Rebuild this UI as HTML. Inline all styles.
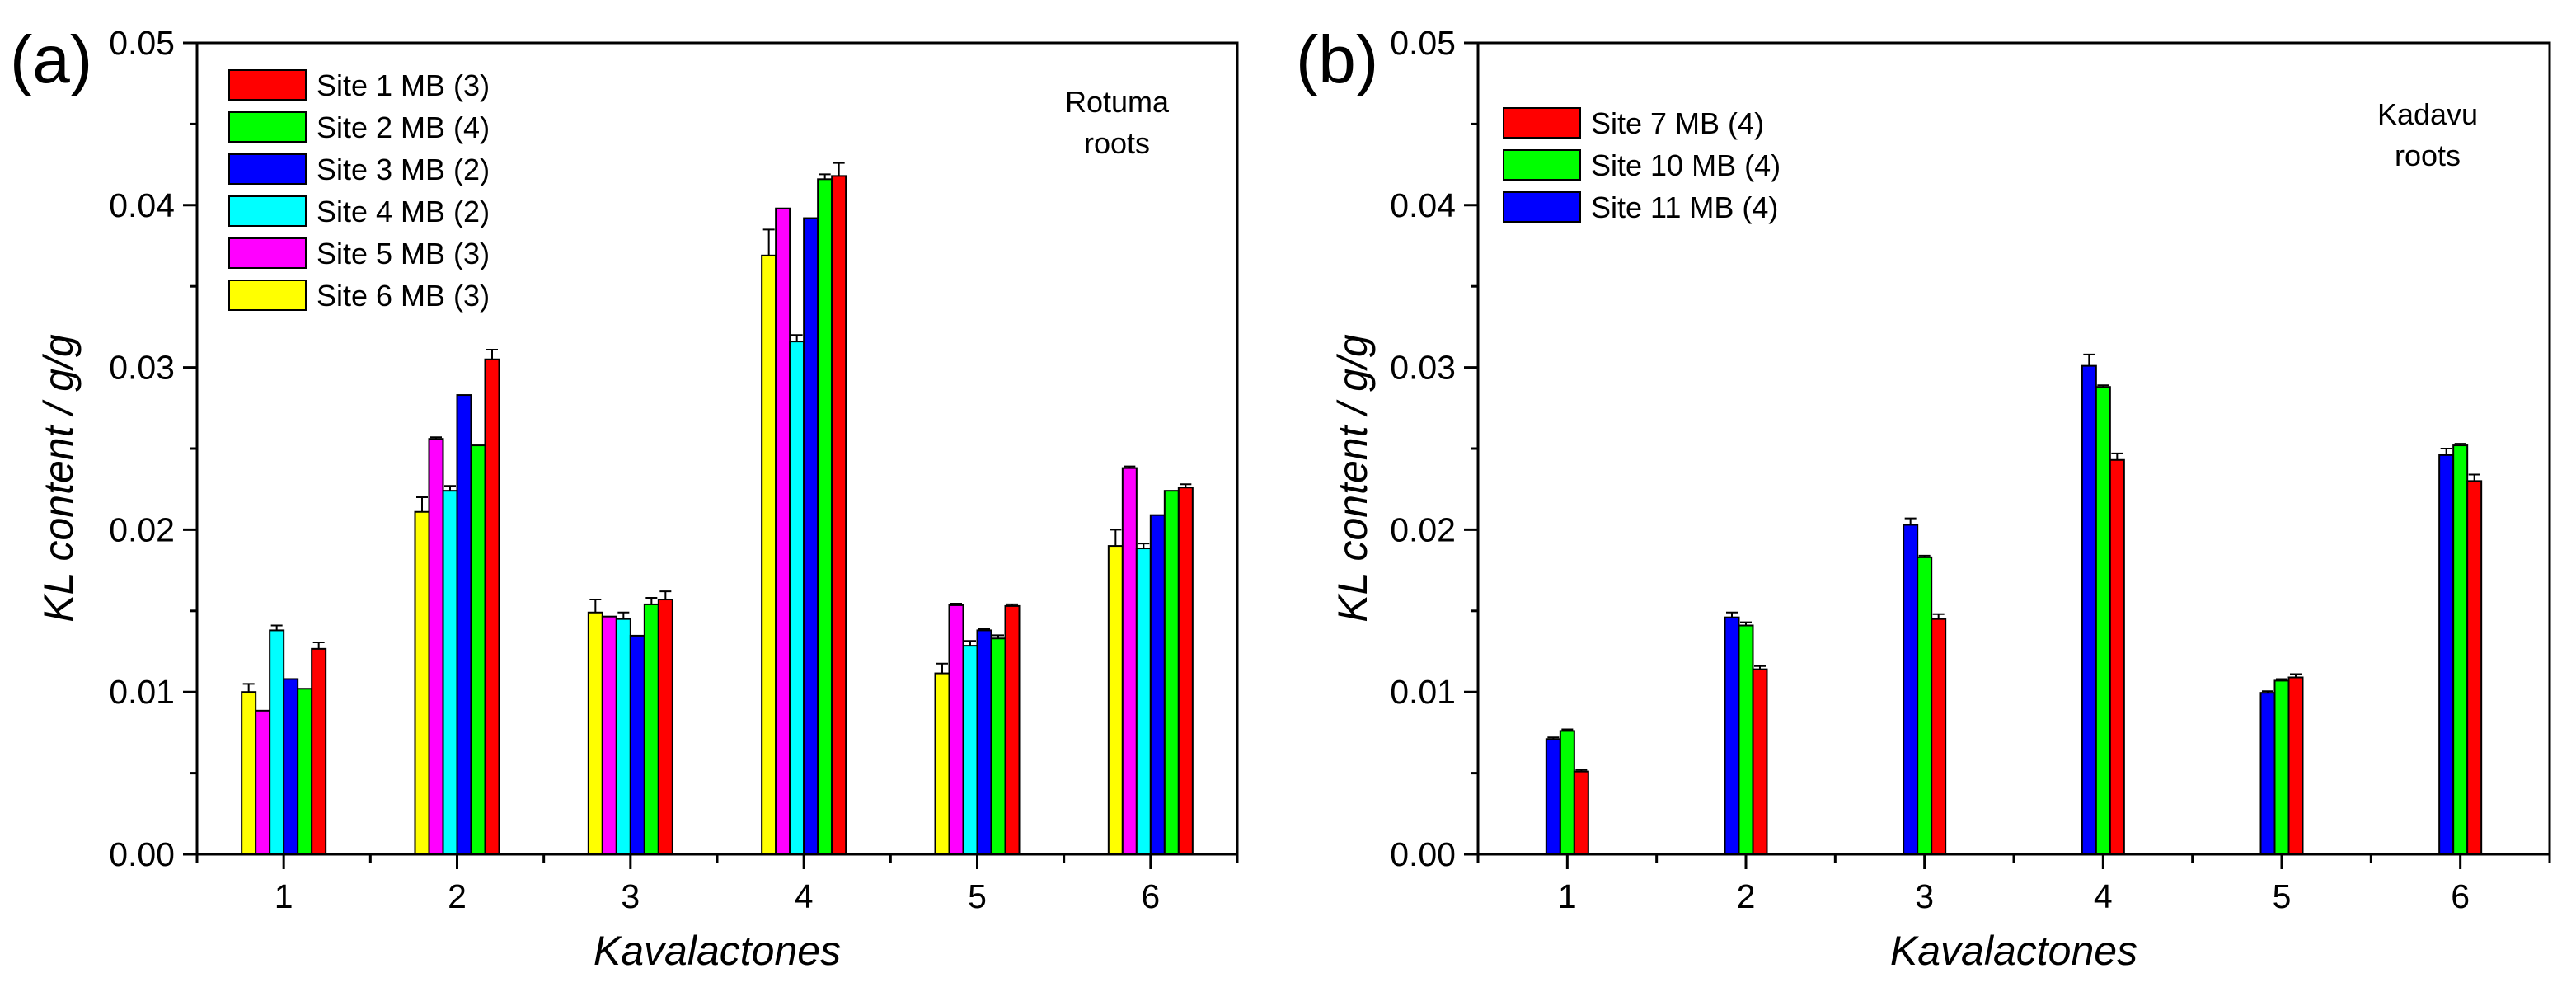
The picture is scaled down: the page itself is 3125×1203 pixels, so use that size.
<!DOCTYPE html>
<html><head><meta charset="utf-8"><style>
html,body{margin:0;padding:0;background:#fff;}
svg{display:block;font-family:"Liberation Sans",Arial,sans-serif;}
</style></head><body>
<svg id="chart" width="3125" height="1203" viewBox="0 0 3125 1203" xmlns="http://www.w3.org/2000/svg"></svg>
<script>
const categories = ["1","2","3","4","5","6"];
const yTicks = [0, 0.01, 0.02, 0.03, 0.04, 0.05];
const yTickLabels = ["0.00","0.01","0.02","0.03","0.04","0.05"];
// Panel (a) series, in bar order left->right
const aNames = ["Site 6 MB (3)","Site 5 MB (3)","Site 4 MB (2)","Site 3 MB (2)","Site 2 MB (4)","Site 1 MB (3)"];
const aColors = ["#ffff00","#ff00ff","#00ffff","#0000ff","#00ff00","#ff0000"];
const aSite6 = [0.0100,0.0211,0.0149,0.0369,0.01115,0.0190];
const aSite5 = [0.00885,0.0256,0.01465,0.0398,0.01535,0.0238];
const aSite4 = [0.0138,0.0224,0.0145,0.0316,0.01285,0.01885];
const aSite3 = [0.0108,0.0283,0.01347,0.0392,0.0138,0.0209];
const aSite2 = [0.0102,0.0252,0.0154,0.0416,0.0133,0.0224];
const aSite1 = [0.01266,0.0305,0.0157,0.0418,0.0153,0.0226];
const aErr6 = [0.0005,0.0009,0.0008,0.0016,0.0006,0.0010];
const aErr5 = [0,0.0001,0,0,0.0001,0.0001];
const aErr4 = [0.0003,0.0003,0.0004,0.0004,0.0003,0.0003];
const aErr3 = [0,0,0,0,0.0001,0];
const aErr2 = [0,0,0.0004,0.0003,0.0002,0];
const aErr1 = [0.0004,0.0006,0.0005,0.0008,0.0001,0.0002];
// Panel (b)
const bNames = ["Site 11 MB (4)","Site 10 MB (4)","Site 7 MB (4)"];
const bColors = ["#0000ff","#00ff00","#ff0000"];
const bSite11 = [0.0071,0.0146,0.0203,0.0301,0.00995,0.0246];
const bSite10 = [0.0076,0.0141,0.0183,0.0288,0.0107,0.0252];
const bSite7 = [0.0051,0.0114,0.0145,0.0243,0.0109,0.0230];
const bErr11 = [0.0001,0.0003,0.0004,0.0007,0.0001,0.0004];
const bErr10 = [0.0001,0.0002,0.0001,0.0001,0.0001,0.0001];
const bErr7 = [0.0001,0.0002,0.0003,0.0004,0.0002,0.0004];

const NS="http://www.w3.org/2000/svg";
const svg=document.getElementById('chart');
function mk(tag,attrs,parent){const e=document.createElementNS(NS,tag);for(const k in attrs)e.setAttribute(k,attrs[k]);(parent||svg).appendChild(e);return e;}

function panel(cfg){
  const g=mk('g',{});
  
  
  const L=cfg.left,R=cfg.right,T=52,B=1036;
  const xs=i=>L+(i+0.5)*(R-L)/categories.length;
  const ys=v=>B-v/0.05*(B-T);
  const bw=17;
  const n=cfg.series.length;
  cfg.series.forEach((vals,s)=>{
    vals.forEach((v,i)=>{
      const x=xs(i)-n*bw/2+s*bw;
      const r=mk('rect',{x:x,y:ys(v),width:bw,height:B-ys(v),fill:cfg.colors[s],stroke:'#000','stroke-width':2},g);
      
      
      const e=cfg.errs[s][i];
      if(e>0){
        const eb=mk('path',{d:`M${x+bw/2} ${ys(v)} V${ys(v+e)} M${x+bw/2-7} ${ys(v+e)} H${x+bw/2+7}`,stroke:'#000','stroke-width':2,fill:'none'},g);
        
        
      }
    });
  });
  const frame=mk('rect',{x:L,y:T,width:R-L,height:B-T,fill:'none',stroke:'#000','stroke-width':3},g);
  
  
  yTicks.forEach((t,i)=>{
    mk('line',{x1:L-17,x2:L,y1:ys(t),y2:ys(t),stroke:'#000','stroke-width':3},g);
    if(i<yTicks.length-1) mk('line',{x1:L-9,x2:L,y1:ys(t+0.005),y2:ys(t+0.005),stroke:'#000','stroke-width':3},g);
    const tx=mk('text',{x:L-27,y:ys(t)+14,'text-anchor':'end','font-size':41},g);
    tx.textContent=yTickLabels[i];
    
    
  });
  categories.forEach((c,i)=>{
    mk('line',{x1:xs(i),x2:xs(i),y1:B,y2:B+18,stroke:'#000','stroke-width':3},g);
    mk('line',{x1:xs(i)-(R-L)/12,x2:xs(i)-(R-L)/12,y1:B,y2:B+10,stroke:'#000','stroke-width':3},g);
    const tx=mk('text',{x:xs(i),y:1101,'text-anchor':'middle','font-size':41},g);
    tx.textContent=c;
    
    
  });
  mk('line',{x1:R,x2:R,y1:B,y2:B+10,stroke:'#000','stroke-width':3},g);
  const xt=mk('text',{x:(L+R)/2,y:1170,'text-anchor':'middle','font-size':50,'font-style':'italic'},g);
  xt.textContent='Kavalactones';
  
  
  const yt=mk('text',{x:0,y:0,'text-anchor':'middle','font-size':50,'font-style':'italic',transform:`translate(${cfg.ytX},580) rotate(-90)`},g);
  yt.textContent='KL content / g/g';
  
  
  const pl=mk('text',{x:cfg.labX,y:100,'font-size':82},g);
  pl.textContent=cfg.label;
  
  
  cfg.note.forEach((t,i)=>{
    const nt=mk('text',{x:cfg.noteX,y:cfg.noteY+i*50,'text-anchor':'middle','font-size':36},g);
    nt.textContent=t;
    
    
  });
  cfg.legend.forEach((idx,k)=>{
    const cy=cfg.legY+k*51;
    const lg=mk('g',{},g);
    
    
    mk('rect',{x:cfg.legX,y:cy-18,width:93,height:36,fill:cfg.colors[idx],stroke:'#000','stroke-width':2},lg);
    const lt=mk('text',{x:cfg.legX+106,y:cy+13,'font-size':36},lg);
    lt.textContent=cfg.names[idx];
  });
}
panel({id:'rotuma',left:239,right:1501,series:[aSite6,aSite5,aSite4,aSite3,aSite2,aSite1],
  errs:[aErr6,aErr5,aErr4,aErr3,aErr2,aErr1],colors:aColors,names:aNames,
  legend:[5,4,3,2,1,0],legX:278,legY:103,ytX:88,labX:12,label:'(a)',
  note:['Rotuma','roots'],noteX:1355,noteY:136});
panel({id:'kadavu',left:1793,right:3093,series:[bSite11,bSite10,bSite7],
  errs:[bErr11,bErr10,bErr7],colors:bColors,names:bNames,
  legend:[2,1,0],legX:1824,legY:149,ytX:1658,labX:1572,label:'(b)',
  note:['Kadavu','roots'],noteX:2945,noteY:151});
</script>
</body></html>
